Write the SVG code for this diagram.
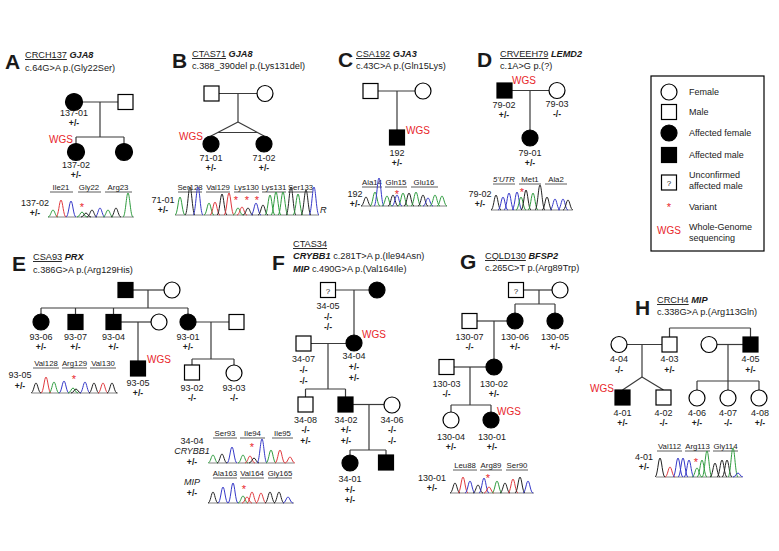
<svg xmlns="http://www.w3.org/2000/svg" width="779" height="551" viewBox="0 0 779 551">
<style>
text{font-family:"Liberation Sans",Arial,Helvetica,sans-serif;fill:#1a1a1a}
.hd{font-size:9.2px}
.big{font-size:21px;font-weight:bold}
.gn{font-weight:bold;font-style:italic}
.id{font-size:9px;text-anchor:middle}
.gt{font-size:8.6px;font-weight:bold;text-anchor:middle}
.cl{font-size:7.8px;text-anchor:middle}
.lg{font-size:9px}
.wgs{font-size:10px;fill:#e8262b}
.st{font-size:11px;fill:#e8262b;text-anchor:middle}
.n{fill:#fff;stroke:#000;stroke-width:1.2}
.a{fill:#000;stroke:#000;stroke-width:1.2}
#connectors line{stroke:#3a3a3a;stroke-width:1.2}
.ul{stroke:#333;stroke-width:0.8}
.bl{stroke:#666;stroke-width:0.8}
.g{stroke:#2f9c3f}.b{stroke:#3538c8}.k{stroke:#222}.r{stroke:#e0393e}
</style>
<defs>
<path id="pk" d="M-1,0 C-0.5,0 -0.33,-1 0,-1 S0.5,0 1,0" fill="none" stroke-width="1" vector-effect="non-scaling-stroke"/>
</defs>

<!-- ============ CONNECTORS ============ -->
<g id="connectors">
<!-- A -->
<line x1="82.5" y1="102" x2="118" y2="102"/>
<line x1="100" y1="102" x2="100" y2="137"/>
<line x1="76" y1="137" x2="124" y2="137"/>
<line x1="76" y1="137" x2="76" y2="143.5"/>
<line x1="124" y1="137" x2="124" y2="143.5"/>
<!-- B -->
<line x1="219" y1="93.5" x2="257" y2="93.5"/>
<line x1="238" y1="93.5" x2="238" y2="122"/>
<line x1="238" y1="122" x2="211" y2="136"/>
<line x1="238" y1="122" x2="264" y2="136"/>
<line x1="217.8" y1="132.5" x2="257.5" y2="132.5"/>
<!-- C -->
<line x1="378" y1="91" x2="415" y2="91"/>
<line x1="397" y1="91" x2="397" y2="130"/>
<!-- D -->
<line x1="512" y1="90.5" x2="549" y2="90.5"/>
<line x1="530" y1="90.5" x2="530" y2="130"/>
<!-- E -->
<line x1="133" y1="290" x2="164" y2="290"/>
<line x1="148" y1="290" x2="148" y2="308"/>
<line x1="41" y1="308" x2="188" y2="308"/>
<line x1="41" y1="308" x2="41" y2="314"/>
<line x1="75.5" y1="308" x2="75.5" y2="314.5"/>
<line x1="113.5" y1="308" x2="113.5" y2="314.5"/>
<line x1="188" y1="308" x2="188" y2="314"/>
<line x1="121" y1="322" x2="151" y2="322"/>
<line x1="138" y1="322" x2="138" y2="361"/>
<line x1="196" y1="322" x2="229" y2="322"/>
<line x1="211" y1="322" x2="211" y2="359"/>
<line x1="192" y1="359" x2="234" y2="359"/>
<line x1="192" y1="359" x2="192" y2="365"/>
<line x1="234" y1="359" x2="234" y2="365"/>
<!-- F -->
<line x1="335.5" y1="290" x2="369" y2="290"/>
<line x1="354" y1="290" x2="354" y2="335"/>
<line x1="311" y1="343.5" x2="346" y2="343.5"/>
<line x1="328" y1="343.5" x2="328" y2="389"/>
<line x1="305.5" y1="389" x2="345.5" y2="389"/>
<line x1="305.5" y1="389" x2="305.5" y2="397"/>
<line x1="345.5" y1="389" x2="345.5" y2="397"/>
<line x1="353" y1="404.5" x2="384" y2="404.5"/>
<line x1="369" y1="404.5" x2="369" y2="450"/>
<line x1="350" y1="450" x2="386" y2="450"/>
<line x1="350" y1="450" x2="350" y2="455"/>
<line x1="386" y1="450" x2="386" y2="455"/>
<!-- G -->
<line x1="523.5" y1="290" x2="552" y2="290"/>
<line x1="539" y1="290" x2="539" y2="304"/>
<line x1="515" y1="304" x2="555" y2="304"/>
<line x1="515" y1="304" x2="515" y2="313"/>
<line x1="555" y1="304" x2="555" y2="313"/>
<line x1="477" y1="321" x2="507" y2="321"/>
<line x1="494" y1="321" x2="494" y2="359"/>
<line x1="454" y1="367" x2="486" y2="367"/>
<line x1="470" y1="367" x2="470" y2="405"/>
<line x1="451" y1="405" x2="491" y2="405"/>
<line x1="451" y1="405" x2="451" y2="412"/>
<line x1="491" y1="405" x2="491" y2="412"/>
<!-- H -->
<line x1="669.5" y1="328" x2="750.5" y2="328"/>
<line x1="669.5" y1="328" x2="669.5" y2="337"/>
<line x1="750.5" y1="328" x2="750.5" y2="337"/>
<line x1="627" y1="344.5" x2="662" y2="344.5"/>
<line x1="642" y1="344.5" x2="642" y2="377"/>
<line x1="642" y1="377" x2="622.5" y2="390"/>
<line x1="642" y1="377" x2="663.5" y2="390"/>
<line x1="717" y1="344.5" x2="743" y2="344.5"/>
<line x1="728" y1="344.5" x2="728" y2="381"/>
<line x1="697" y1="381" x2="759" y2="381"/>
<line x1="697" y1="381" x2="697" y2="390"/>
<line x1="728" y1="381" x2="728" y2="390"/>
<line x1="759" y1="381" x2="759" y2="390"/>
</g>

<!-- ============ PANEL A ============ -->
<g id="panel-A">
<text class="big" x="5" y="69">A</text>
<text class="hd" x="25" y="58"><tspan text-decoration="underline">CRCH137</tspan> <tspan class="gn">GJA8</tspan></text>
<text class="hd" x="25" y="71">c.64G&gt;A p.(Gly22Ser)</text>
<g id="A-137-01"><circle class="a" cx="74" cy="102" r="8.5"/><text class="id" x="74" y="116">137-01</text><text class="gt" x="74" y="126">+/-</text></g>
<g id="A-father"><rect class="n" x="118" y="94.5" width="15" height="15"/></g>
<g id="A-137-02"><circle class="a" cx="76" cy="152" r="8.5"/><text class="wgs" x="73" y="143" text-anchor="end">WGS</text><text class="id" x="76" y="168">137-02</text><text class="gt" x="76" y="178">+/-</text></g>
<g id="A-sib"><circle class="a" cx="124" cy="152" r="8.5"/></g>
<g id="A-chrom">
<text class="cl" x="61" y="190">Ile21</text><text class="cl" x="89" y="190">Gly22</text><text class="cl" x="118" y="190">Arg23</text>
<line class="ul" x1="50" y1="192" x2="73" y2="192"/><line class="ul" x1="78" y1="192" x2="101" y2="192"/><line class="ul" x1="105" y1="192" x2="132" y2="192"/>
<text class="id" x="35" y="206">137-02</text><text class="gt" x="35" y="216">+/-</text>
<line class="bl" x1="48" y1="217" x2="134" y2="217"/>
<use href="#pk" class="g" transform="translate(53,217) scale(5,7)"/>
<use href="#pk" class="r" transform="translate(61,217) scale(5,17)"/>
<use href="#pk" class="b" transform="translate(71,217) scale(5,16)"/>
<use href="#pk" class="g" transform="translate(82,217) scale(5,5)"/>
<use href="#pk" class="k" transform="translate(86,217) scale(5,4)"/>
<use href="#pk" class="k" transform="translate(92,217) scale(5,7)"/>
<use href="#pk" class="b" transform="translate(100,217) scale(5,9)"/>
<use href="#pk" class="g" transform="translate(108,217) scale(5,7)"/>
<use href="#pk" class="k" transform="translate(116,217) scale(5,9)"/>
<use href="#pk" class="g" transform="translate(128,217) scale(5,24)"/>
<text class="st" x="82" y="211">*</text>
</g>
</g>

<!-- ============ PANEL B ============ -->
<g id="panel-B">
<text class="big" x="172" y="68">B</text>
<text class="hd" x="192" y="57"><tspan text-decoration="underline">CTAS71</tspan> <tspan class="gn">GJA8</tspan></text>
<text class="hd" x="192" y="69">c.388_390del p.(Lys131del)</text>
<g id="B-father"><rect class="n" x="204" y="86" width="15" height="15"/></g>
<g id="B-mother"><circle class="n" cx="265" cy="93.5" r="8"/></g>
<g id="B-71-01"><circle class="a" cx="211" cy="144" r="8"/><text class="wgs" x="203" y="140" text-anchor="end">WGS</text><text class="id" x="211" y="161">71-01</text><text class="gt" x="211" y="171">+/-</text></g>
<g id="B-71-02"><circle class="a" cx="264" cy="144" r="8"/><text class="id" x="264" y="161">71-02</text><text class="gt" x="264" y="171">+/-</text></g>
<g id="B-chrom">
<text class="cl" x="190" y="190">Ser128</text><text class="cl" x="218" y="190">Val129</text><text class="cl" x="246.5" y="190">Lys130</text><text class="cl" x="274" y="190">Lys131</text><text class="cl" x="300.5" y="190">Ser133</text>
<line class="ul" x1="178" y1="192" x2="202" y2="192"/><line class="ul" x1="206" y1="192" x2="230" y2="192"/><line class="ul" x1="234" y1="192" x2="259" y2="192"/><line class="ul" x1="262" y1="192" x2="286" y2="192"/><line class="ul" x1="288" y1="192" x2="313" y2="192"/>
<text class="id" x="163" y="203">71-01</text><text class="gt" x="163" y="213">+/-</text>
<line class="bl" x1="175" y1="215" x2="319" y2="215"/>
<use href="#pk" class="g" transform="translate(180,215) scale(5,18)"/>
<use href="#pk" class="k" transform="translate(190,215) scale(5,28)"/>
<use href="#pk" class="b" transform="translate(198,215) scale(5,28)"/>
<use href="#pk" class="g" transform="translate(209,215) scale(5,12)"/>
<use href="#pk" class="r" transform="translate(215,215) scale(5,13)"/>
<use href="#pk" class="k" transform="translate(222,215) scale(5,21)"/>
<use href="#pk" class="r" transform="translate(229,215) scale(5,22)"/>
<use href="#pk" class="g" transform="translate(238,215) scale(5,7)"/>
<use href="#pk" class="r" transform="translate(242,215) scale(5,8)"/>
<use href="#pk" class="k" transform="translate(248,215) scale(5,7)"/>
<use href="#pk" class="b" transform="translate(256,215) scale(5,12)"/>
<use href="#pk" class="k" transform="translate(263,215) scale(5,10)"/>
<use href="#pk" class="g" transform="translate(270,215) scale(5,20)"/>
<use href="#pk" class="g" transform="translate(276,215) scale(5,23)"/>
<use href="#pk" class="g" transform="translate(283,215) scale(5,23)"/>
<use href="#pk" class="k" transform="translate(291,215) scale(5,28)"/>
<use href="#pk" class="g" transform="translate(298,215) scale(5,21)"/>
<use href="#pk" class="k" transform="translate(306,215) scale(5,25)"/>
<use href="#pk" class="b" transform="translate(314,215) scale(5,28)"/>
<text class="st" x="236" y="204">*</text><text class="st" x="247" y="204">*</text><text class="st" x="257" y="204">*</text>
<text class="hd" x="320" y="213" font-style="italic">R</text>
</g>
</g>

<!-- ============ PANEL C ============ -->
<g id="panel-C">
<text class="big" x="338" y="67">C</text>
<text class="hd" x="356" y="57"><tspan text-decoration="underline">CSA192</tspan> <tspan class="gn">GJA3</tspan></text>
<text class="hd" x="356" y="69">c.43C&gt;A p.(Gln15Lys)</text>
<g id="C-father"><rect class="n" x="363" y="83.5" width="15" height="15"/></g>
<g id="C-mother"><circle class="n" cx="423" cy="91" r="8"/></g>
<g id="C-192"><rect class="a" x="389.5" y="130" width="15" height="15"/><text class="wgs" x="406" y="134">WGS</text><text class="id" x="397" y="156">192</text><text class="gt" x="397" y="166">+/-</text></g>
<g id="C-chrom">
<text class="cl" x="372" y="185">Ala14</text><text class="cl" x="396" y="185">Gln15</text><text class="cl" x="424" y="185">Glu16</text>
<line class="ul" x1="362" y1="187" x2="382" y2="187"/><line class="ul" x1="385" y1="187" x2="407" y2="187"/><line class="ul" x1="411" y1="187" x2="438" y2="187"/>
<text class="id" x="355" y="197">192</text><text class="gt" x="355" y="207">+/-</text>
<line class="bl" x1="361" y1="206" x2="447" y2="206"/>
<use href="#pk" class="k" transform="translate(366,206) scale(5,9)"/>
<use href="#pk" class="g" transform="translate(375,206) scale(5,14)"/>
<use href="#pk" class="b" transform="translate(379,206) scale(5,28)"/>
<use href="#pk" class="g" transform="translate(387,206) scale(5,10)"/>
<use href="#pk" class="k" transform="translate(393,206) scale(5,11)"/>
<use href="#pk" class="b" transform="translate(397,206) scale(5,11)"/>
<use href="#pk" class="g" transform="translate(403,206) scale(5,13)"/>
<use href="#pk" class="k" transform="translate(409,206) scale(5,13)"/>
<use href="#pk" class="g" transform="translate(416,206) scale(5,14)"/>
<use href="#pk" class="k" transform="translate(423,206) scale(5,11)"/>
<use href="#pk" class="b" transform="translate(428,206) scale(5,8)"/>
<use href="#pk" class="g" transform="translate(435,206) scale(5,11)"/>
<use href="#pk" class="g" transform="translate(442,206) scale(5,10)"/>
<text class="st" x="397" y="198">*</text>
</g>
</g>

<!-- ============ PANEL D ============ -->
<g id="panel-D">
<text class="big" x="477" y="67">D</text>
<text class="hd" x="500" y="57"><tspan text-decoration="underline">CRVEEH79</tspan> <tspan class="gn">LEMD2</tspan></text>
<text class="hd" x="500" y="69">c.1A&gt;G p.(?)</text>
<g id="D-79-02"><rect class="a" x="497" y="83" width="15" height="15"/><text class="wgs" x="512" y="84">WGS</text><text class="id" x="504" y="108">79-02</text><text class="gt" x="504" y="118">+/-</text></g>
<g id="D-79-03"><circle class="n" cx="557" cy="90.5" r="8"/><text class="id" x="557" y="107">79-03</text><text class="gt" x="557" y="117">-/-</text></g>
<g id="D-79-01"><circle class="a" cx="530" cy="138" r="8"/><text class="id" x="530" y="156">79-01</text><text class="gt" x="530" y="166">+/-</text></g>
<g id="D-chrom">
<text class="cl" x="504" y="182" font-style="italic">5'UTR</text><text class="cl" x="530" y="182">Met1</text><text class="cl" x="556" y="182">Ala2</text>
<line class="ul" x1="493" y1="184" x2="515" y2="184"/><line class="ul" x1="519" y1="184" x2="541" y2="184"/><line class="ul" x1="545" y1="184" x2="567" y2="184"/>
<text class="id" x="480" y="197">79-02</text><text class="gt" x="480" y="207">+/-</text>
<line class="bl" x1="491" y1="210" x2="572" y2="210"/>
<use href="#pk" class="k" transform="translate(496,210) scale(5,15)"/>
<use href="#pk" class="b" transform="translate(503,210) scale(5,13)"/>
<use href="#pk" class="b" transform="translate(509,210) scale(5,17)"/>
<use href="#pk" class="b" transform="translate(517,210) scale(5,18)"/>
<use href="#pk" class="g" transform="translate(521,210) scale(5,13)"/>
<use href="#pk" class="k" transform="translate(526,210) scale(5,20)"/>
<use href="#pk" class="g" transform="translate(533,210) scale(5,17)"/>
<use href="#pk" class="k" transform="translate(540,210) scale(5,25)"/>
<use href="#pk" class="k" transform="translate(547,210) scale(5,13)"/>
<use href="#pk" class="b" transform="translate(555,210) scale(5,11)"/>
<use href="#pk" class="b" transform="translate(563,210) scale(5,11)"/>
<use href="#pk" class="k" transform="translate(568,210) scale(5,10)"/>
<text class="st" x="522" y="196">*</text>
</g>
</g>

<!-- ============ LEGEND ============ -->
<g id="legend">
<rect x="651" y="76" width="113" height="175" fill="#fff" stroke="#000" stroke-width="1.2"/>
<g id="lg-female"><circle class="n" cx="669" cy="92" r="8"/><text class="lg" x="689" y="95">Female</text></g>
<g id="lg-male"><rect class="n" x="661.5" y="104.5" width="15" height="15"/><text class="lg" x="689" y="115">Male</text></g>
<g id="lg-aff-female"><circle class="a" cx="669" cy="133" r="8"/><text class="lg" x="689" y="136">Affected female</text></g>
<g id="lg-aff-male"><rect class="a" x="661.5" y="147.5" width="15" height="15"/><text class="lg" x="689" y="158">Affected male</text></g>
<g id="lg-unconf"><rect class="n" x="661.5" y="175" width="15" height="15"/><text x="669" y="186" font-size="8" text-anchor="middle">?</text><text class="lg" x="689" y="178">Unconfirmed</text><text class="lg" x="689" y="189">affected male</text></g>
<g id="lg-variant"><text class="st" x="669" y="211">*</text><text class="lg" x="689" y="210">Variant</text></g>
<g id="lg-wgs"><text class="wgs" x="669" y="234" text-anchor="middle">WGS</text><text class="lg" x="689" y="230">Whole-Genome</text><text class="lg" x="689" y="241">sequencing</text></g>
</g>

<!-- ============ PANEL E ============ -->
<g id="panel-E">
<text class="big" x="12" y="271">E</text>
<text class="hd" x="33" y="260"><tspan text-decoration="underline">CSA93</tspan> <tspan class="gn">PRX</tspan></text>
<text class="hd" x="33" y="273">c.386G&gt;A p.(Arg129His)</text>
<g id="E-father"><rect class="a" x="118" y="282.5" width="15" height="15"/></g>
<g id="E-mother"><circle class="n" cx="172" cy="290" r="8"/></g>
<g id="E-93-06"><circle class="a" cx="41" cy="322" r="8"/><text class="id" x="41" y="340">93-06</text><text class="gt" x="41" y="350">+/-</text></g>
<g id="E-93-07"><rect class="a" x="68" y="314.5" width="15" height="15"/><text class="id" x="75.5" y="340">93-07</text><text class="gt" x="75.5" y="350">+/-</text></g>
<g id="E-93-04"><rect class="a" x="106" y="314.5" width="15" height="15"/><text class="id" x="113.5" y="340">93-04</text><text class="gt" x="113.5" y="350">+/-</text></g>
<g id="E-spouse"><circle class="n" cx="159" cy="322" r="8"/></g>
<g id="E-93-01"><circle class="a" cx="188" cy="322" r="8"/><text class="id" x="188" y="340">93-01</text><text class="gt" x="188" y="350">+/-</text></g>
<g id="E-spouse2"><rect class="n" x="229" y="314.5" width="15" height="15"/></g>
<g id="E-93-05"><rect class="a" x="130.5" y="361" width="15" height="15"/><text class="wgs" x="147" y="363">WGS</text><text class="id" x="138" y="386">93-05</text><text class="gt" x="138" y="396">+/-</text></g>
<g id="E-93-02"><rect class="n" x="184.5" y="365" width="15" height="15"/><text class="id" x="192" y="391">93-02</text><text class="gt" x="192" y="401">-/-</text></g>
<g id="E-93-03"><circle class="n" cx="234" cy="373" r="8"/><text class="id" x="234" y="391">93-03</text><text class="gt" x="234" y="401">-/-</text></g>
<g id="E-chrom">
<text class="cl" x="46" y="366">Val128</text><text class="cl" x="74.5" y="366">Arg129</text><text class="cl" x="103" y="366">Val130</text>
<line class="ul" x1="33" y1="368" x2="59" y2="368"/><line class="ul" x1="62" y1="368" x2="87" y2="368"/><line class="ul" x1="90" y1="368" x2="116" y2="368"/>
<text class="id" x="20" y="378">93-05</text><text class="gt" x="20" y="389">+/-</text>
<line class="bl" x1="32" y1="393" x2="118" y2="393"/>
<use href="#pk" class="k" transform="translate(36,393) scale(5,10)"/>
<use href="#pk" class="r" transform="translate(46,393) scale(5,16)"/>
<use href="#pk" class="g" transform="translate(54,393) scale(5,11)"/>
<use href="#pk" class="b" transform="translate(64,393) scale(5,12)"/>
<use href="#pk" class="g" transform="translate(73,393) scale(5,5)"/>
<use href="#pk" class="k" transform="translate(76,393) scale(5,4)"/>
<use href="#pk" class="b" transform="translate(85,393) scale(5,11)"/>
<use href="#pk" class="k" transform="translate(94,393) scale(5,10)"/>
<use href="#pk" class="r" transform="translate(103,393) scale(5,10)"/>
<use href="#pk" class="k" transform="translate(112,393) scale(5,10)"/>
<text class="st" x="74" y="383">*</text>
</g>
</g>

<!-- ============ PANEL F ============ -->
<g id="panel-F">
<text class="big" x="272" y="270">F</text>
<text class="hd" x="293" y="247" text-decoration="underline">CTAS34</text>
<text class="hd" x="293" y="259"><tspan class="gn">CRYBB1</tspan> c.281T&gt;A p.(Ile94Asn)</text>
<text class="hd" x="293" y="272"><tspan class="gn">MIP</tspan> c.490G&gt;A p.(Val164Ile)</text>
<g id="F-34-05"><rect class="n" x="320.5" y="282.5" width="15" height="15"/><text x="328" y="293.5" font-size="8" text-anchor="middle">?</text><text class="id" x="328" y="309">34-05</text><text class="gt" x="328" y="320">-/-</text><text class="gt" x="328" y="330">-/-</text></g>
<g id="F-mother"><circle class="a" cx="377" cy="290" r="8"/></g>
<g id="F-34-07"><rect class="n" x="296" y="336" width="15" height="15"/><text class="id" x="303.5" y="361.5">34-07</text><text class="gt" x="303.5" y="372.5">-/-</text><text class="gt" x="303.5" y="383.5">-/-</text></g>
<g id="F-34-04"><circle class="a" cx="354" cy="343" r="8"/><text class="wgs" x="362" y="338">WGS</text><text class="id" x="354" y="359">34-04</text><text class="gt" x="354" y="370">+/-</text><text class="gt" x="354" y="381">+/-</text></g>
<g id="F-34-08"><rect class="n" x="298" y="397" width="15" height="15"/><text class="id" x="305.5" y="423">34-08</text><text class="gt" x="305.5" y="433">-/-</text><text class="gt" x="305.5" y="444">+/-</text></g>
<g id="F-34-02"><rect class="a" x="338" y="397" width="15" height="15"/><text class="id" x="346" y="423">34-02</text><text class="gt" x="346" y="433">+/-</text><text class="gt" x="346" y="444">+/-</text></g>
<g id="F-34-06"><circle class="n" cx="392" cy="405" r="8"/><text class="id" x="392" y="423">34-06</text><text class="gt" x="392" y="433">-/-</text><text class="gt" x="392" y="444">-/-</text></g>
<g id="F-34-01"><circle class="a" cx="350" cy="463" r="8"/><text class="id" x="350" y="482">34-01</text><text class="gt" x="350" y="492.5">+/-</text><text class="gt" x="350" y="502.5">+/-</text></g>
<g id="F-son"><rect class="a" x="378.5" y="455" width="15" height="15"/></g>
<g id="F-chrom">
<text class="id" x="192" y="443.5">34-04</text><text class="id" x="192" y="454" font-style="italic">CRYBB1</text><text class="gt" x="192" y="465">+/-</text>
<text class="cl" x="225" y="436">Ser93</text><text class="cl" x="252.5" y="436">Ile94</text><text class="cl" x="282.5" y="436">Ile95</text>
<line class="ul" x1="213" y1="438" x2="237" y2="438"/><line class="ul" x1="240" y1="438" x2="265" y2="438"/><line class="ul" x1="272" y1="438" x2="293" y2="438"/>
<line class="bl" x1="209" y1="463" x2="294" y2="463"/>
<use href="#pk" class="g" transform="translate(213,463) scale(5,8)"/>
<use href="#pk" class="k" transform="translate(222,463) scale(5,9)"/>
<use href="#pk" class="b" transform="translate(232,463) scale(5,16)"/>
<use href="#pk" class="g" transform="translate(243,463) scale(5,8)"/>
<use href="#pk" class="r" transform="translate(250,463) scale(5,7)"/>
<use href="#pk" class="k" transform="translate(254,463) scale(5,5)"/>
<use href="#pk" class="b" transform="translate(262,463) scale(5,24)"/>
<use href="#pk" class="g" transform="translate(271,463) scale(5,13)"/>
<use href="#pk" class="r" transform="translate(280,463) scale(5,13)"/>
<use href="#pk" class="r" transform="translate(290,463) scale(5,6)"/>
<text class="st" x="252" y="451">*</text>
<text class="id" x="192" y="485" font-style="italic">MIP</text><text class="gt" x="192" y="496">+/-</text>
<text class="cl" x="225" y="476">Ala163</text><text class="cl" x="252" y="476">Val164</text><text class="cl" x="280" y="476">Gly165</text>
<line class="ul" x1="213" y1="478" x2="237" y2="478"/><line class="ul" x1="240" y1="478" x2="264" y2="478"/><line class="ul" x1="268" y1="478" x2="292" y2="478"/>
<line class="bl" x1="208" y1="503" x2="294" y2="503"/>
<use href="#pk" class="k" transform="translate(213,503) scale(5,11)"/>
<use href="#pk" class="b" transform="translate(223,503) scale(5,16)"/>
<use href="#pk" class="b" transform="translate(233,503) scale(5,20)"/>
<use href="#pk" class="g" transform="translate(243,503) scale(5,7)"/>
<use href="#pk" class="r" transform="translate(247,503) scale(5,6)"/>
<use href="#pk" class="r" transform="translate(252,503) scale(5,11)"/>
<use href="#pk" class="r" transform="translate(261,503) scale(5,10)"/>
<use href="#pk" class="k" transform="translate(270,503) scale(5,11)"/>
<use href="#pk" class="k" transform="translate(279,503) scale(5,11)"/>
<use href="#pk" class="b" transform="translate(288,503) scale(5,6)"/>
<text class="st" x="244" y="493">*</text>
</g>
</g>

<!-- ============ PANEL G ============ -->
<g id="panel-G">
<text class="big" x="460" y="269">G</text>
<text class="hd" x="485" y="259"><tspan text-decoration="underline">CQLD130</tspan> <tspan class="gn">BFSP2</tspan></text>
<text class="hd" x="485" y="271">c.265C&gt;T p.(Arg89Trp)</text>
<g id="G-father"><rect class="n" x="508.5" y="282.5" width="15" height="15"/><text x="516" y="293.5" font-size="8" text-anchor="middle">?</text></g>
<g id="G-mother"><circle class="n" cx="560" cy="290" r="8"/></g>
<g id="G-130-07"><rect class="n" x="462" y="313.5" width="15" height="15"/><text class="id" x="469.5" y="340">130-07</text><text class="gt" x="469.5" y="350">-/-</text></g>
<g id="G-130-06"><circle class="a" cx="515" cy="321" r="8"/><text class="id" x="515" y="340">130-06</text><text class="gt" x="515" y="350">+/-</text></g>
<g id="G-130-05"><circle class="a" cx="555" cy="321" r="8"/><text class="id" x="555" y="340">130-05</text><text class="gt" x="555" y="350">+/-</text></g>
<g id="G-130-03"><rect class="n" x="439" y="359.5" width="15" height="15"/><text class="id" x="446.5" y="387">130-03</text><text class="gt" x="446.5" y="397">-/-</text></g>
<g id="G-130-02"><circle class="a" cx="494" cy="367" r="8"/><text class="id" x="494" y="387">130-02</text><text class="gt" x="494" y="397">+/-</text></g>
<g id="G-130-04"><circle class="n" cx="451" cy="420" r="8"/><text class="id" x="451" y="440">130-04</text><text class="gt" x="451" y="450">+/-</text></g>
<g id="G-130-01"><circle class="a" cx="491" cy="420" r="8"/><text class="wgs" x="497" y="415">WGS</text><text class="id" x="492" y="440">130-01</text><text class="gt" x="492" y="450">+/-</text></g>
<g id="G-chrom">
<text class="cl" x="465" y="468">Leu88</text><text class="cl" x="491" y="468">Arg89</text><text class="cl" x="517" y="468">Ser90</text>
<line class="ul" x1="453" y1="470" x2="477" y2="470"/><line class="ul" x1="480" y1="470" x2="502" y2="470"/><line class="ul" x1="506" y1="470" x2="528" y2="470"/>
<text class="id" x="432" y="481">130-01</text><text class="gt" x="432" y="491">+/-</text>
<line class="bl" x1="450" y1="493" x2="534" y2="493"/>
<use href="#pk" class="k" transform="translate(455,493) scale(5,10)"/>
<use href="#pk" class="r" transform="translate(463,493) scale(5,16)"/>
<use href="#pk" class="b" transform="translate(470,493) scale(5,12)"/>
<use href="#pk" class="k" transform="translate(478,493) scale(5,8)"/>
<use href="#pk" class="b" transform="translate(484,493) scale(5,15)"/>
<use href="#pk" class="r" transform="translate(489,493) scale(5,6)"/>
<use href="#pk" class="g" transform="translate(497,493) scale(5,12)"/>
<use href="#pk" class="k" transform="translate(505,493) scale(5,10)"/>
<use href="#pk" class="r" transform="translate(513,493) scale(5,14)"/>
<use href="#pk" class="k" transform="translate(520,493) scale(5,16)"/>
<use href="#pk" class="b" transform="translate(528,493) scale(5,12)"/>
<text class="st" x="488" y="482">*</text>
</g>
</g>

<!-- ============ PANEL H ============ -->
<g id="panel-H">
<text class="big" x="635" y="315">H</text>
<text class="hd" x="657" y="303"><tspan text-decoration="underline">CRCH4</tspan> <tspan class="gn">MIP</tspan></text>
<text class="hd" x="657" y="315">c.338G&gt;A p.(Arg113Gln)</text>
<g id="H-4-04"><circle class="n" cx="619" cy="344.5" r="8"/><text class="id" x="619" y="362">4-04</text><text class="gt" x="619" y="373">-/-</text></g>
<g id="H-4-03"><rect class="n" x="662" y="337" width="15" height="15"/><text class="id" x="669.5" y="362">4-03</text><text class="gt" x="669.5" y="373">+/-</text></g>
<g id="H-wife"><circle class="n" cx="709" cy="344.5" r="8"/></g>
<g id="H-4-05"><rect class="a" x="743" y="337" width="15" height="15"/><text class="id" x="750.5" y="362">4-05</text><text class="gt" x="750.5" y="373">+/-</text></g>
<g id="H-4-01"><rect class="a" x="615" y="390" width="15" height="15"/><text class="wgs" x="614" y="392" text-anchor="end">WGS</text><text class="id" x="622.5" y="416">4-01</text><text class="gt" x="622.5" y="426">+/-</text></g>
<g id="H-4-02"><rect class="n" x="656" y="390" width="15" height="15"/><text class="id" x="663.5" y="416">4-02</text><text class="gt" x="663.5" y="426">-/-</text></g>
<g id="H-4-06"><circle class="n" cx="697" cy="398" r="8"/><text class="id" x="697" y="416">4-06</text><text class="gt" x="697" y="426">+/-</text></g>
<g id="H-4-07"><circle class="n" cx="728" cy="398" r="8"/><text class="id" x="728" y="416">4-07</text><text class="gt" x="728" y="426">-/-</text></g>
<g id="H-4-08"><circle class="n" cx="759" cy="398" r="8"/><text class="id" x="760" y="416">4-08</text><text class="gt" x="760" y="426">+/-</text></g>
<g id="H-chrom">
<text class="cl" x="669.5" y="449">Val112</text><text class="cl" x="697.5" y="449">Arg113</text><text class="cl" x="725.5" y="449">Gly114</text>
<line class="ul" x1="657" y1="451" x2="682" y2="451"/><line class="ul" x1="685" y1="451" x2="710" y2="451"/><line class="ul" x1="713" y1="451" x2="738" y2="451"/>
<text class="id" x="644" y="460">4-01</text><text class="gt" x="644" y="470">+/-</text>
<line class="bl" x1="656" y1="477" x2="742" y2="477"/>
<use href="#pk" class="k" transform="translate(660,477) scale(5,19)"/>
<use href="#pk" class="r" transform="translate(670,477) scale(5,10)"/>
<use href="#pk" class="b" transform="translate(678,477) scale(5,19)"/>
<use href="#pk" class="b" transform="translate(683,477) scale(5,19)"/>
<use href="#pk" class="b" transform="translate(689,477) scale(5,17)"/>
<use href="#pk" class="g" transform="translate(697,477) scale(5,9)"/>
<use href="#pk" class="g" transform="translate(702,477) scale(5,17)"/>
<use href="#pk" class="g" transform="translate(707,477) scale(5,26)"/>
<use href="#pk" class="k" transform="translate(715,477) scale(5,14)"/>
<use href="#pk" class="k" transform="translate(722,477) scale(5,17)"/>
<use href="#pk" class="k" transform="translate(727,477) scale(5,17)"/>
<use href="#pk" class="g" transform="translate(733,477) scale(5,29)"/>
<use href="#pk" class="b" transform="translate(738,477) scale(5,4)"/>
<text class="st" x="696" y="466">*</text>
</g>
</g>
</svg>
